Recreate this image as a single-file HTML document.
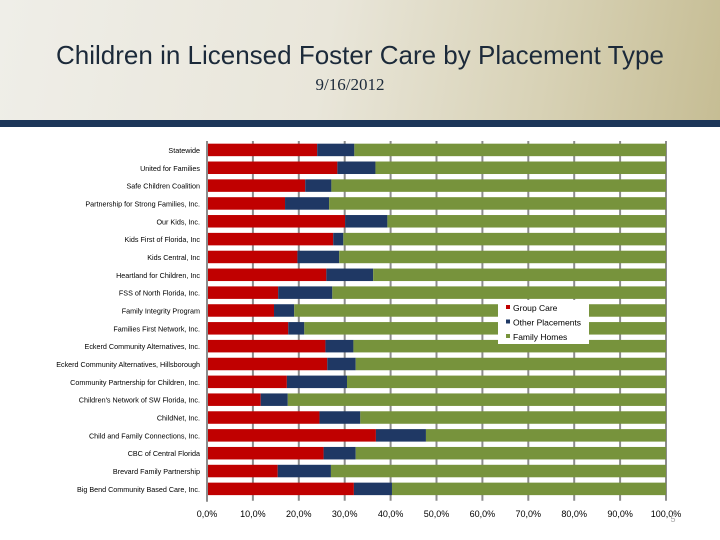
<!DOCTYPE html>
<html><head><meta charset="utf-8"><style>
body{margin:0;width:720px;height:540px;overflow:hidden;background:#fff;font-family:"Liberation Sans",sans-serif;position:relative}
#hdr{position:absolute;left:0;top:0;width:720px;height:120px;background:linear-gradient(100deg,#efeee8 0%,#e9e6da 45%,#d8d2b6 75%,#c6bd94 100%)}
#band{position:absolute;left:0;top:120px;width:720px;height:7px;background:#1c3659}
#title{position:absolute;left:0;width:720px;top:40px;text-align:center;font-size:26px;color:#1c2a3a}
#sub{position:absolute;left:0;width:700px;top:75px;text-align:center;font-size:17px;color:#1c2a3a;font-family:"Liberation Serif",serif}
svg{position:absolute;left:0;top:0}
</style></head><body>
<div id="hdr"></div>
<div id="band"></div>
<div id="title">Children in Licensed Foster Care by Placement Type</div>
<div id="sub">9/16/2012</div>
<svg id="chart" width="720" height="540"></svg>
<script>
const categories=["Statewide","United for Families","Safe Children Coalition","Partnership for Strong Families, Inc.","Our Kids, Inc.","Kids First of Florida, Inc","Kids Central, Inc","Heartland for Children, Inc","FSS of North Florida, Inc.","Family Integrity Program","Families First Network, Inc.","Eckerd Community Alternatives, Inc.","Eckerd Community Alternatives, Hillsborough","Community Partnership for Children, Inc.","Children's Network of SW Florida, Inc.","ChildNet, Inc.","Child and Family Connections, Inc.","CBC of Central Florida","Brevard Family Partnership","Big Bend Community Based Care, Inc."];
const groupCare=[24.0,28.4,21.4,17.0,30.1,27.5,19.7,26.0,15.5,14.6,17.7,25.8,26.2,17.4,11.7,24.5,36.8,25.4,15.4,32.0];
const otherPlacements=[8.1,8.3,5.7,9.6,9.2,2.2,9.1,10.2,11.8,4.4,3.5,6.1,6.2,13.1,5.9,8.9,10.9,7.0,11.6,8.3];
const tickValues=[0,10,20,30,40,50,60,70,80,90,100];
const tickLabels=["0,0%","10,0%","20,0%","30,0%","40,0%","50,0%","60,0%","70,0%","80,0%","90,0%","100,0%"];
const seriesNames=["Group Care","Other Placements","Family Homes"];
const colors=["#c00000","#1f3864","#77933c"];
const svg=document.getElementById('chart');const NS="http://www.w3.org/2000/svg";
const x0=207,x1=666,yTop=141,step=17.84,bh=12.5;
const xs=v=>x0+(x1-x0)*v/100;
const yc=i=>yTop+step*(i+0.5);
function mk(t,a){const e=document.createElementNS(NS,t);for(const k in a)e.setAttribute(k,a[k]);svg.appendChild(e);return e;}
tickValues.forEach((v,i)=>{
 const g=mk('line',{x1:xs(v),x2:xs(v),y1:yTop,y2:yTop+step*categories.length+3,stroke:'#8c8c8c','stroke-width':2});
 
 
 const t=mk('text',{x:xs(v),y:517,'text-anchor':'middle','font-size':9,fill:'#000'});t.textContent=tickLabels[i];
 
 
});
categories.forEach((c,i)=>{
 const y=yc(i)-bh/2;
 const a=groupCare[i],b=otherPlacements[i],f=100-a-b;
 const r1=mk('rect',{x:xs(0),y:y,width:xs(a)-xs(0),height:bh,fill:colors[0]});
 
 
 const r2=mk('rect',{x:xs(a),y:y,width:xs(a+b)-xs(a),height:bh,fill:colors[1]});
 
 
 const r3=mk('rect',{x:xs(a+b),y:y,width:xs(a+b+f)-xs(a+b),height:bh,fill:colors[2]});
 
 
 const t=mk('text',{x:200,y:yc(i)+3,'text-anchor':'end','font-size':7.2,fill:'#000'});t.textContent=c;
 
 
});
const ax=mk('line',{x1:x0,x2:x0,y1:yTop,y2:yTop+step*categories.length+4,stroke:'#8c8c8c','stroke-width':2});


const lb=mk('rect',{x:498,y:300,width:91,height:44,fill:'#fff'});


seriesNames.forEach((n,i)=>{
 const s=mk('rect',{x:506,y:305+i*14.5,width:4,height:4,fill:colors[i]});
 
 
 const t=mk('text',{x:513,y:311+i*14.5,'font-size':8.5,fill:'#000'});t.textContent=n;
 
 
});
const pn=mk('text',{x:673,y:522,'font-size':9,fill:'#aaa','text-anchor':'middle'});pn.textContent='5';


</script>
</body></html>
